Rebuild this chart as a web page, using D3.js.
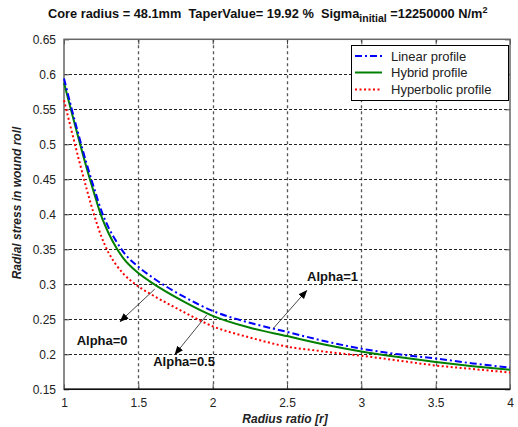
<!DOCTYPE html>
<html><head><meta charset="utf-8">
<script src="https://cdn.jsdelivr.net/npm/d3@7"></script>
<style>
body{margin:0;background:#fff;}
svg{display:block;font-family:"Liberation Sans",Arial,sans-serif;}
</style></head>
<body>
<svg id="chart" width="518" height="427"></svg>
<script>
// ---- data ----
const xTicks = [1, 1.5, 2, 2.5, 3, 3.5, 4];
const yTicks = [0.15, 0.2, 0.25, 0.3, 0.35, 0.4, 0.45, 0.5, 0.55, 0.6, 0.65];

const radiusRatio   = [1, 1.05, 1.1, 1.15, 1.2, 1.25, 1.3, 1.35, 1.4, 1.5, 1.6, 1.8, 2.0, 2.25, 2.5, 2.75, 3.0, 3.25, 3.5, 3.75, 4.0];
const linearStress  = [0.594, 0.552, 0.512, 0.474, 0.439, 0.406, 0.381, 0.362, 0.346, 0.325, 0.309, 0.283, 0.262, 0.245, 0.232, 0.219, 0.208, 0.200, 0.194, 0.187, 0.181];
const hybridStress  = [0.588, 0.547, 0.507, 0.468, 0.432, 0.398, 0.373, 0.353, 0.337, 0.316, 0.301, 0.276, 0.255, 0.238, 0.226, 0.214, 0.204, 0.196, 0.189, 0.183, 0.178];
const hyperStress   = [0.563, 0.520, 0.478, 0.438, 0.401, 0.369, 0.345, 0.328, 0.315, 0.297, 0.284, 0.261, 0.240, 0.224, 0.211, 0.204, 0.198, 0.191, 0.184, 0.179, 0.174];

const seriesNames = ["Linear profile", "Hybrid profile", "Hyperbolic profile"];

const annotationLabels = ["Alpha=0", "Alpha=0.5", "Alpha=1"];
const arrowFromR = [1.61, 1.96, 2.408];
const arrowFromS = [0.293, 0.256, 0.237];
const arrowToR   = [1.378, 1.747, 2.632];
const arrowToS   = [0.247, 0.200, 0.291];
const labelR     = [1.085, 1.6, 2.635];
const labelS     = [0.214, 0.184, 0.305];

// ---- layout ----
const svg = d3.select("#chart");
const L = 64, R = 510, T = 39.3, B = 389.3;
const x = d3.scaleLinear().domain([1, 4]).range([L, R]);
const y = d3.scaleLinear().domain([0.15, 0.65]).range([B, T]);

// grid
const grid = svg.append("g");
grid.selectAll("line.gx").data(xTicks.slice(1, -1)).join("line")
  .attr("x1", d => Math.round(x(d)) + 0.5).attr("x2", d => Math.round(x(d)) + 0.5)
  .attr("y1", T).attr("y2", B)
  .attr("stroke", "#555").attr("stroke-width", 1.3).attr("stroke-dasharray", "3,3");
grid.selectAll("line.gy").data(yTicks.slice(1, -1)).join("line")
  .attr("y1", d => Math.round(y(d)) + 0.5).attr("y2", d => Math.round(y(d)) + 0.5)
  .attr("x1", L).attr("x2", R)
  .attr("stroke", "#222").attr("stroke-width", 1).attr("stroke-dasharray", "3,2");

// axes via d3 axis
const xAxis = d3.axisBottom(x).tickValues(xTicks).tickFormat(d3.format("")).tickSizeInner(-5).tickSizeOuter(0).tickPadding(9);
const yAxis = d3.axisLeft(y).tickValues(yTicks).tickFormat(d3.format("")).tickSizeInner(-5).tickSizeOuter(0).tickPadding(8);

const gx = svg.append("g").attr("transform", `translate(0,${B})`).call(xAxis);
const gy = svg.append("g").attr("transform", `translate(${L},0)`).call(yAxis);
[gx, gy].forEach(g => {
  g.select(".domain").remove();
  g.selectAll(".tick line").attr("stroke", "#444");
  g.selectAll(".tick text").attr("font-size", 12).attr("fill", "#222")
    .attr("font-family", "'Liberation Sans',Arial,sans-serif");
});
// top & right ticks
const gt = svg.append("g").attr("transform", `translate(0,${T})`).call(d3.axisTop(x).tickValues(xTicks).tickFormat("").tickSizeInner(-5).tickSizeOuter(0));
const gr = svg.append("g").attr("transform", `translate(${R},0)`).call(d3.axisRight(y).tickValues(yTicks).tickFormat("").tickSizeInner(-5).tickSizeOuter(0));
[gt, gr].forEach(g => { g.select(".domain").remove(); g.selectAll(".tick line").attr("stroke", "#444"); });

// frame
svg.append("rect").attr("x", L).attr("y", T).attr("width", R - L).attr("height", B - T)
  .attr("fill", "none").attr("stroke", "#666").attr("stroke-width", 1.5);
svg.append("line").attr("x1", L).attr("x2", R).attr("y1", B).attr("y2", B).attr("stroke", "#111").attr("stroke-width", 1.5);

// curves
const line = d3.line().x(d => x(d[0])).y(d => y(d[1])).curve(d3.curveMonotoneX);
const series = [
  {s: linearStress, color: "#0000ff", dash: "7,3,2,3", w: 2},
  {s: hybridStress, color: "#008000", dash: null, w: 2},
  {s: hyperStress,  color: "#ff0000", dash: "2,2.5", w: 2}
];
const plot = svg.append("g");
series.slice().reverse().forEach(sr => {
  plot.append("path").datum(d3.zip(radiusRatio, sr.s))
    .attr("d", line).attr("fill", "none")
    .attr("stroke", sr.color).attr("stroke-width", sr.w)
    .attr("stroke-dasharray", sr.dash);
});

// annotations
const defs = svg.append("defs");
defs.append("marker").attr("id", "ah").attr("viewBox", "0 0 10 10").attr("refX", 9).attr("refY", 5)
  .attr("markerWidth", 9).attr("markerHeight", 9).attr("markerUnits", "userSpaceOnUse").attr("orient", "auto")
  .append("path").attr("d", "M0,1 L10,5 L0,9 Z").attr("fill", "#000");
annotationLabels.forEach((lab, i) => {
  svg.append("line").attr("x1", x(arrowFromR[i])).attr("y1", y(arrowFromS[i]))
    .attr("x2", x(arrowToR[i])).attr("y2", y(arrowToS[i]))
    .attr("stroke", "#333").attr("stroke-width", 0.9).attr("marker-end", "url(#ah)");
  svg.append("text").attr("x", x(labelR[i])).attr("y", y(labelS[i])).text(lab)
    .attr("font-size", 13).attr("font-weight", "bold").attr("fill", "#111");
});

// legend
const lg = svg.append("g");
lg.append("rect").attr("x", 351.5).attr("y", 45.5).attr("width", 157).attr("height", 55)
  .attr("fill", "#fff").attr("stroke", "#000").attr("stroke-width", 1);
series.forEach((sr, i) => {
  const yy = [56, 72.5, 89.5][i];
  lg.append("line").attr("x1", 355).attr("x2", 382).attr("y1", yy).attr("y2", yy)
    .attr("stroke", sr.color).attr("stroke-width", 2).attr("stroke-dasharray", sr.dash);
  lg.append("text").attr("x", 391).attr("y", yy + 4.5).text(seriesNames[i])
    .attr("font-size", 13).attr("fill", "#222");
});

// title
const title = svg.append("text").attr("x", 48).attr("y", 18).attr("font-size", 12.8)
  .attr("font-weight", "bold").attr("fill", "#111").style("white-space", "pre");
title.append("tspan").text("Core radius = 48.1mm  TaperValue= 19.92 %  Sigma");
title.append("tspan").attr("dy", 4).attr("font-size", 10.5).text("initial");
title.append("tspan").attr("dy", -4).text(" =12250000 N/m");
title.append("tspan").attr("dy", -5).attr("font-size", 9).text("2");

// axis labels
svg.append("text").attr("x", (L + R) / 2 - 2).attr("y", 423).attr("text-anchor", "middle")
  .attr("font-size", 12).attr("font-weight", "bold").attr("font-style", "italic").attr("fill", "#222")
  .text("Radius ratio [r]");
svg.append("text").attr("transform", "translate(21,203) rotate(-90)").attr("text-anchor", "middle")
  .attr("font-size", 12).attr("font-weight", "bold").attr("font-style", "italic").attr("fill", "#222")
  .text("Radial stress in wound roll");
</script>
</body></html>
